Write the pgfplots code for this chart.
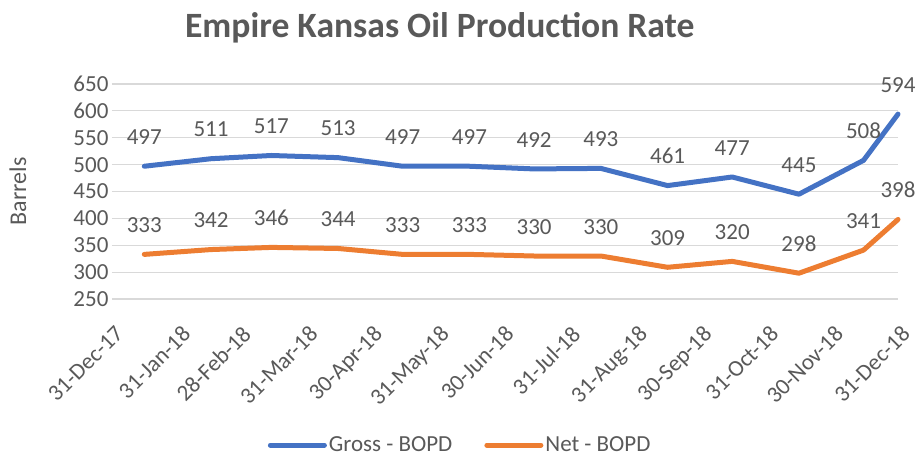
\documentclass[border=0pt]{standalone}
\usepackage{pgfplots}
\pgfplotsset{compat=1.18}
\usepackage{fontspec}
\setmainfont{Carlito}
\definecolor{txt}{HTML}{595959}
\definecolor{gridc}{HTML}{D9D9D9}
\definecolor{cblue}{HTML}{4472C4}
\definecolor{corange}{HTML}{ED7D31}
\begin{document}
\begin{tikzpicture}
\begin{axis}[
  name=ax,
  scale only axis, width=786pt, height=215pt,
  xmin=0, xmax=365, ymin=250, ymax=650,
  ytick={250,300,...,650},
  xtick={0,31,59,90,120,151,181,212,243,273,304,334,365},
  xticklabels={31-Dec-17,31-Jan-18,28-Feb-18,31-Mar-18,30-Apr-18,31-May-18,30-Jun-18,31-Jul-18,31-Aug-18,30-Sep-18,31-Oct-18,30-Nov-18,31-Dec-18},
  /pgf/number format/assume math mode=true,
  x tick label style={rotate=45, anchor=north east, font=\fontsize{23}{26}\selectfont, text=txt, xshift=-13pt, yshift=-16pt},
  y tick label style={font=\fontsize{23}{26}\selectfont, text=txt},
  ymajorgrids, grid style={gridc, line width=1.2pt},
  axis line style={draw=none},
  major tick length=0pt,
  ylabel={Barrels},
  ylabel style={font=\fontsize{24}{27}\selectfont, text=txt, at={(axis description cs:-0.1196,0.5)}, anchor=center},
  title={Empire Kansas Oil Production Rate},
  title style={font=\bfseries\fontsize{35.6}{40}\selectfont, text=txt, at={(axis description cs:0.417,1)}, anchor=center, yshift=50pt},
  legend style={at={(axis description cs:0.443,-0.68)}, anchor=center, draw=none, legend columns=2, font=\fontsize{23}{26}\selectfont, text=txt, /tikz/every even column/.append style={column sep=30pt}},
  legend image code/.code={\draw[#1, line width=5pt, line cap=round] (0pt,0pt) -- (54pt,0pt);},
  nodes near coords,
  every node near coord/.append style={font=\fontsize{23}{26}\selectfont, text=txt, yshift=16pt},
  clip=false,
]
\addplot[cblue, line width=5pt, line join=round, line cap=round] coordinates {
(15,497) (46,511) (74,517) (105,513) (135,497) (166,497) (196,492) (227,493) (258,461) (288,477) (319,445) (349,508) (365,594)};
\addlegendentry{Gross - BOPD}
\addplot[corange, line width=5pt, line join=round, line cap=round] coordinates {
(15,333) (46,342) (74,346) (105,344) (135,333) (166,333) (196,330) (227,330) (258,309) (288,320) (319,298) (349,341) (365,398)};
\addlegendentry{Net - BOPD}
\end{axis}
\pgfresetboundingbox
\path ([xshift=-112pt,yshift=-159pt]ax.south west) rectangle ([xshift=808pt,yshift=299pt]ax.south west);
\end{tikzpicture}
\end{document}
